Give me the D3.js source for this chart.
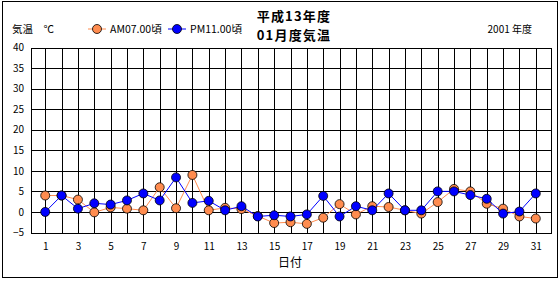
<!DOCTYPE html>
<html>
<head>
<meta charset="utf-8">
<script src="https://cdn.jsdelivr.net/npm/d3@7"></script>
<style>
  body { margin: 0; background: #fff; }
  svg text { font-family: "Noto Sans CJK JP", "DejaVu Sans", sans-serif; fill: #000; }
</style>
</head>
<body>
<svg id="chart" width="560" height="300"></svg>
<script>
// days of January 2001
const days = [1, 2, 3, 4, 5, 6, 7, 8, 9, 10, 11, 12, 13, 14, 15, 16, 17, 18, 19, 20,
  21, 22, 23, 24, 25, 26, 27, 28, 29, 30, 31];

// temperature around 07:00
const amTemps = [4.0, 4.0, 3.0, -0.1, 1.1, 0.8, 0.4, 6.0, 0.9, 9.0, 0.4, 1.0, 0.7, -1.0,
  -2.7, -2.5, -2.9, -1.4, 1.9, -0.6, 1.4, 1.2, 0.4, -0.4, 2.4, 5.6, 5.0, 2.0, 0.8, -1.1, -1.6];

// temperature around 23:00
const pmTemps = [0.0, 4.0, 0.8, 2.1, 1.8, 2.8, 4.5, 2.8, 8.4, 2.2, 2.7, 0.4, 1.4, -1.1,
  -0.8, -1.1, -0.6, 3.9, -1.1, 1.4, 0.4, 4.5, 0.4, 0.4, 5.0, 5.0, 4.1, 3.2, -0.4, 0.1, 4.5];

const xTickLabels = [1, 3, 5, 7, 9, 11, 13, 15, 17, 19, 21, 23, 25, 27, 29, 31];
const yTicks = [-5, 0, 5, 10, 15, 20, 25, 30, 35, 40];

const titleLines = ["平成13年度", "01月度気温"];
const seriesNames = ["AM07.00頃", "PM11.00頃"];
const amColor = "#ff8c4f";
const pmColor = "#0000ff";

const plot = { left: 31, right: 550.5, top: 47.5, bottom: 232.5 };
const r = 4.5;

const svg = d3.select("#chart");

// outer frame
svg.append("rect")
  .attr("x", 2.5).attr("y", 1.5)
  .attr("width", 555).attr("height", 276)
  .attr("fill", "none").attr("stroke", "#000");

const xScale = d3.scaleLinear()
  .domain([1 - 0.87, 31 + 0.9])
  .range([plot.left, plot.right]);

const yScale = d3.scaleLinear()
  .domain([-5, 40])
  .range([plot.bottom, plot.top]);

// grid
const grid = svg.append("g").attr("stroke", "#000").attr("shape-rendering", "crispEdges");

grid.selectAll("line.h")
  .data(yTicks)
  .enter()
  .append("line")
  .attr("x1", plot.left).attr("x2", plot.right)
  .attr("y1", (d) => Math.round(yScale(d)) + 0.5)
  .attr("y2", (d) => Math.round(yScale(d)) + 0.5);

grid.selectAll("line.v")
  .data(days)
  .enter()
  .append("line")
  .attr("x1", (d) => Math.round(xScale(d)) + 0.5)
  .attr("x2", (d) => Math.round(xScale(d)) + 0.5)
  .attr("y1", plot.top).attr("y2", plot.bottom);

grid.append("rect")
  .attr("x", plot.left + 0.5).attr("y", Math.round(plot.top) + 0.5)
  .attr("width", plot.right - plot.left)
  .attr("height", Math.round(plot.bottom) - Math.round(plot.top))
  .attr("fill", "none");

// axes labels
const yAxis = d3.axisLeft(yScale).tickValues(yTicks).tickSize(0).tickPadding(7);
svg.append("g")
  .attr("transform", `translate(${plot.left}, 0)`)
  .call(yAxis)
  .call((g) => g.select(".domain").remove())
  .selectAll("text")
  .style("font-size", "10px");

const xAxis = d3.axisBottom(xScale).tickValues(xTickLabels).tickSize(0).tickPadding(10);
svg.append("g")
  .attr("transform", `translate(0, ${plot.bottom})`)
  .call(xAxis)
  .call((g) => g.select(".domain").remove())
  .selectAll("text")
  .style("font-size", "10px");

svg.append("text")
  .text("日付")
  .attr("x", 290).attr("y", 267)
  .attr("text-anchor", "middle")
  .style("font-size", "12px");

svg.append("text")
  .text("気温　℃")
  .attr("x", 12).attr("y", 33)
  .style("font-size", "10.5px");

// title, two lines
const title = svg.append("text")
  .attr("text-anchor", "middle")
  .style("font-size", "13px").style("font-weight", "bold")
  .style("letter-spacing", "1.2px");
title.selectAll("tspan")
  .data(titleLines)
  .enter()
  .append("tspan")
  .attr("x", 294)
  .attr("y", (_, i) => 21 + i * 19)
  .text((d) => d);

svg.append("text")
  .text("2001 年度")
  .attr("x", 532).attr("y", 33)
  .attr("text-anchor", "end")
  .style("font-size", "10px");

// series
const line = d3.line()
  .x((d, i) => xScale(days[i]))
  .y((d) => yScale(d));

function drawSeries(values, color) {
  svg.append("path")
    .datum(values)
    .attr("d", line)
    .attr("fill", "none")
    .attr("stroke", color)
    .attr("stroke-width", 1);

  svg.append("g")
    .selectAll("circle")
    .data(values)
    .enter()
    .append("circle")
    .attr("cx", (d, i) => xScale(days[i]))
    .attr("cy", (d) => yScale(d))
    .attr("r", r)
    .attr("fill", color)
    .attr("stroke", "#000")
    .attr("stroke-width", 0.8);
}

drawSeries(amTemps, amColor);
drawSeries(pmTemps, pmColor);

// legend
const legendItems = [
  { name: seriesNames[0], color: amColor, x: 88 },
  { name: seriesNames[1], color: pmColor, x: 168 },
];

const legend = svg.append("g").attr("transform", "translate(0, 29)");
const item = legend.selectAll("g")
  .data(legendItems)
  .enter()
  .append("g")
  .attr("transform", (d) => `translate(${d.x}, 0)`);

item.append("line")
  .attr("x1", 0).attr("x2", 18)
  .attr("stroke", (d) => d.color);
item.append("circle")
  .attr("cx", 9).attr("r", r)
  .attr("fill", (d) => d.color)
  .attr("stroke", "#000").attr("stroke-width", 0.8);
item.append("text")
  .text((d) => d.name)
  .attr("x", 22).attr("y", 4)
  .style("font-size", "10.5px");
</script>
</body>
</html>
